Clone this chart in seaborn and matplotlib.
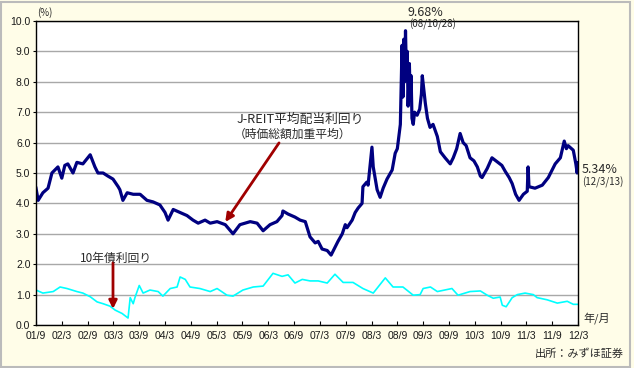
import matplotlib.pyplot as plt
import numpy as np
import pandas as pd
import seaborn as sns
from matplotlib.patches import Rectangle

# months counted from 2001/9
reit_month = [0.0, 0.5, 1.6, 2.8, 3.7, 4.4, 5.1, 6.0, 6.7, 7.4, 8.6, 9.5, 10.9, 12.6,
              13.7, 14.4, 15.6, 16.7, 17.9, 19.1, 19.5, 20.2, 21.2, 22.6, 24.2, 25.8,
              27.2, 28.8, 30.0, 30.7, 31.9, 33.5, 35.1, 36.5, 37.7, 39.3, 40.5, 42.1,
              44.0, 45.8, 47.4, 49.8, 51.4, 52.8, 54.4, 56.0, 57.2, 57.4, 58.6, 60.2,
              61.4, 62.6, 63.7, 64.9, 65.6, 66.5, 67.7, 68.6, 69.5, 70.2, 71.2, 71.9,
              72.3, 73.5, 74.2, 74.9, 75.8, 76.0, 76.9, 77.2, 78.1, 78.4, 79.3, 80.0,
              80.7, 81.6, 82.8, 83.5, 84.0, 84.7, 85.1, 85.3, 85.5, 85.7, 85.9, 86.1,
              86.3, 86.5, 86.8, 87.0, 87.2, 87.4, 87.7, 88.0, 88.6, 89.2, 89.6, 89.8,
              90.1, 90.5, 91.0, 91.6, 92.3, 93.3, 94.0, 95.1, 96.3, 97.0, 97.8, 98.6,
              99.3, 100.0, 100.9, 101.8, 102.6, 103.3, 103.7, 104.3, 104.9, 106.0,
              107.4, 108.3, 109.1, 110.0, 110.7, 111.5, 112.3, 113.3, 114.2, 114.4,
              114.6, 116.0, 117.7, 119.1, 120.7, 121.9, 122.8, 123.3, 123.7, 124.9,
              125.5, 125.8, 126.0]
reit_yield = [4.5, 4.1, 4.35, 4.5, 5.0, 5.1, 5.2, 4.83, 5.25, 5.3, 5.0, 5.35, 5.3, 5.6,
              5.2, 5.0, 5.0, 4.9, 4.8, 4.55, 4.45, 4.1, 4.35, 4.3, 4.3, 4.1,
              4.05, 3.95, 3.7, 3.45, 3.8, 3.7, 3.6, 3.45, 3.35, 3.45, 3.35, 3.4,
              3.3, 3.0, 3.3, 3.4, 3.35, 3.1, 3.3, 3.4, 3.6, 3.75, 3.65, 3.55,
              3.45, 3.4, 2.9, 2.7, 2.75, 2.5, 2.45, 2.3, 2.55, 2.75, 3.0, 3.3,
              3.2, 3.45, 3.7, 3.85, 4.0, 4.55, 4.7, 4.6, 5.85, 5.2, 4.45, 4.2,
              4.5, 4.8, 5.1, 5.65, 5.8, 6.6, 9.2, 7.5, 9.4, 8.0, 9.68, 8.3,
              9.0, 7.2, 8.6, 7.4, 8.2, 6.8, 6.6, 7.0, 6.9, 7.1, 7.6, 8.2,
              7.8, 7.3, 6.8, 6.5, 6.6, 6.2, 5.7, 5.5, 5.3, 5.5, 5.8, 6.3,
              6.0, 5.9, 5.5, 5.4, 5.2, 4.9, 4.85, 5.0, 5.15, 5.5,
              5.35, 5.25, 5.05, 4.85, 4.65, 4.3, 4.1, 4.3, 4.4, 5.2,
              4.55, 4.5, 4.6, 4.85, 5.3, 5.5, 6.05, 5.8, 5.9, 5.75,
              5.3, 5.0, 5.34]

jgb_month = [0.0, 1.6, 4.0, 5.6, 7.2, 9.5, 10.9, 12.6, 14.2, 15.6, 17.2, 18.4, 20.0,
             21.4, 21.9, 22.6, 23.0, 24.0, 24.9, 26.5, 28.4, 29.5, 31.2, 32.8, 33.5,
             34.7, 35.8, 38.1, 40.5, 42.1, 44.4, 45.8, 48.1, 50.5, 52.8, 55.1, 57.2,
             58.6, 60.2, 61.9, 63.7, 65.6, 67.7, 69.5, 71.4, 73.7, 76.0, 78.4, 81.2,
             83.0, 85.3, 87.7, 89.3, 90.0, 91.7, 93.3, 96.7, 98.1, 100.9, 103.3, 104.9,
             106.3, 107.9, 108.4, 109.3, 110.7, 111.9, 113.7, 115.6, 116.5, 118.8,
             121.2, 123.5, 124.9, 126.0]
jgb_yield = [1.15, 1.05, 1.1, 1.25, 1.2, 1.1, 1.05, 0.93, 0.76, 0.7, 0.62, 0.49, 0.38,
             0.23, 0.9, 0.7, 0.9, 1.3, 1.05, 1.15, 1.1, 0.95, 1.2, 1.25, 1.58,
             1.5, 1.25, 1.2, 1.1, 1.2, 0.98, 0.95, 1.15, 1.25, 1.28, 1.7, 1.6,
             1.65, 1.38, 1.5, 1.45, 1.45, 1.38, 1.67, 1.4, 1.4, 1.2, 1.05, 1.55,
             1.25, 1.25, 0.98, 1.0, 1.2, 1.25, 1.1, 1.2, 0.98, 1.1, 1.12, 0.98,
             0.88, 0.92, 0.65, 0.6, 0.9, 1.0, 1.05, 1.0, 0.9, 0.83,
             0.72, 0.78, 0.68, 0.68]

tick_labels = ["01/9", "02/3", "02/9", "03/3", "03/9", "04/3", "04/9", "05/3", "05/9",
               "06/3", "06/9", "07/3", "07/9", "08/3", "08/9", "09/3", "09/9", "10/3",
               "10/9", "11/3", "11/9", "12/3"]

W, H = 634, 368
JP = ['Noto Sans CJK JP', 'DejaVu Sans']
TXT = '#2a2a2a'

fig = plt.figure(figsize=(W / 100, H / 100), dpi=100, facecolor='#FFFDE8')
fig.patches.append(Rectangle((0.002, 0.004), 0.992, 0.99, transform=fig.transFigure,
                             fill=False, edgecolor='#BBBBBB', lw=1.5))
ax = fig.add_axes([36 / W, 1 - 325 / H, (578 - 36) / W, (325 - 21) / H])
ax.set_facecolor('white')

reit = pd.DataFrame({'month': reit_month, 'yield': reit_yield})
jgb = pd.DataFrame({'month': jgb_month, 'yield': jgb_yield})
sns.lineplot(data=jgb, x='month', y='yield', ax=ax, color='#00FFFF', lw=1.2,
             sort=False, estimator=None)
sns.lineplot(data=reit, x='month', y='yield', ax=ax, color='#000080', lw=2.3,
             sort=False, estimator=None)

ax.set_xlim(0, 126)
ax.set_ylim(0, 10)
ax.set_xticks(np.arange(0, 127, 6))
ax.set_xticklabels(tick_labels)
ax.set_yticks(np.arange(0, 11, 1))
ax.set_yticklabels([f"{v:.1f}" for v in range(11)])
ax.grid(axis='y', color='#A8A8A8', lw=1)
ax.set_axisbelow(True)
ax.set_xlabel('')
ax.set_ylabel('')
for s in ax.spines.values():
    s.set_color('black')
    s.set_linewidth(1)
ax.tick_params(axis='x', direction='in', length=3, color='black', pad=4)
ax.tick_params(axis='y', direction='out', length=2, color='black', pad=2)
for lab in ax.get_xticklabels() + ax.get_yticklabels():
    lab.set_fontfamily('Liberation Sans')
    lab.set_fontsize(7.5)
    lab.set_color('#1a1a1a')


def ptext(x, y, s, size=8, **kw):
    fig.text(x / W, 1 - y / H, s, fontsize=size, color=TXT, family=JP,
             va='center', **kw)


ptext(37, 13, '(%)', 7)
ptext(408, 12, '9.68%', 9)
ptext(409, 24, '(08/10/28)', 7)
ptext(582, 170, '5.34%', 9)
ptext(582, 182, '(12/3/13)', 7)
ptext(237, 119, 'J-REIT平均配当利回り', 9.2)
ptext(234, 134, '（時価総額加重平均）', 8.5)
ptext(80, 258, '10年債利回り', 8.5)
ptext(583, 318, '年/月', 8)
ptext(535, 354, '出所：みずほ証券', 8)

arrow = dict(arrowstyle='-|>', color='#A00000', lw=2, mutation_scale=12,
             shrinkA=0, shrinkB=0)
ax.annotate('', xy=(44.0, 3.39), xytext=(56.5, 5.99), arrowprops=arrow)
ax.annotate('', xy=(17.9, 0.53), xytext=(17.9, 2.05), arrowprops=arrow)

fig.savefig('out.png', dpi=100, facecolor=fig.get_facecolor())
